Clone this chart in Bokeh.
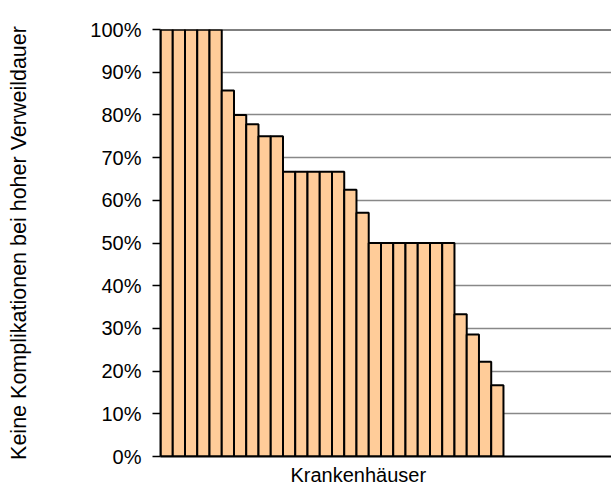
from bokeh.plotting import figure
from bokeh.models import Range1d, FixedTicker, NumeralTickFormatter, Span, Title, ColumnDataSource
from bokeh.embed import file_html
from bokeh.resources import INLINE

# Share of cases without complications at high length of stay, per hospital (sorted)
hospitals = [f"KH {i+1}" for i in range(28)]
share = [1.0, 1.0, 1.0, 1.0, 1.0,
         0.857, 0.80, 0.778, 0.75, 0.75,
         0.667, 0.667, 0.667, 0.667, 0.667,
         0.625, 0.571,
         0.5, 0.5, 0.5, 0.5, 0.5, 0.5, 0.5,
         0.333, 0.286, 0.222, 0.167]
y_ticks = [0.0, 0.1, 0.2, 0.3, 0.4, 0.5, 0.6, 0.7, 0.8, 0.9, 1.0]

pos = list(range(len(share)))
src = ColumnDataSource(dict(x=pos, top=share, name=hospitals))

FONT = "Liberation Sans"

p = figure(width=611, height=491, output_backend="svg", toolbar_location=None,
           x_range=Range1d(-0.5, 36.32), y_range=Range1d(0, 1),
           min_border_left=160, min_border_top=29, min_border_right=0,
           min_border_bottom=34)
p.outline_line_color = None
p.background_fill_color = "white"
p.border_fill_color = "white"

p.vbar(x="x", top="top", bottom=0, width=1.0, source=src,
       fill_color="#FFCC99", line_color="black", line_width=2)

# y axis
ya = p.yaxis[0]
ya.ticker = FixedTicker(ticks=y_ticks)
ya.formatter = NumeralTickFormatter(format="0%")
ya.major_label_text_font = FONT
ya.major_label_text_font_size = "20px"
ya.major_label_text_color = "black"
ya.major_label_standoff = 11
ya.major_tick_out = 8
ya.major_tick_in = 0
ya.major_tick_line_color = "black"
ya.major_tick_line_width = 1.5
ya.minor_tick_line_color = None
ya.axis_line_color = "black"
ya.axis_line_width = 2
ya.axis_label = "Keine Komplikationen bei hoher Verweildauer"
ya.axis_label_text_font = FONT
ya.axis_label_text_font_size = "21.5px"
ya.axis_label_text_font_style = "normal"
ya.axis_label_text_color = "black"
ya.axis_label_standoff = 56

# x axis: line only
xa = p.xaxis[0]
xa.ticker = FixedTicker(ticks=[])
xa.major_label_text_font_size = "0px"
xa.major_label_standoff = 0
xa.axis_label_standoff = 0
xa.major_tick_out = 0
xa.major_tick_in = 0
xa.major_tick_line_color = None
xa.minor_tick_line_color = None
xa.axis_line_color = "black"
xa.axis_line_width = 2

p.xgrid.grid_line_color = None
p.ygrid.ticker = FixedTicker(ticks=y_ticks)
p.ygrid.grid_line_color = "#888888"
p.ygrid.grid_line_width = 1.5

p.add_layout(Span(location=1.0, dimension="width", line_color="black", line_width=2))

p.add_layout(Title(text="Krankenhäuser", align="left", offset=130, standoff=11,
                   text_font=FONT, text_font_size="20px", text_font_style="normal",
                   text_color="black"), "below")

open("out.html", "w").write(file_html(p, INLINE))
